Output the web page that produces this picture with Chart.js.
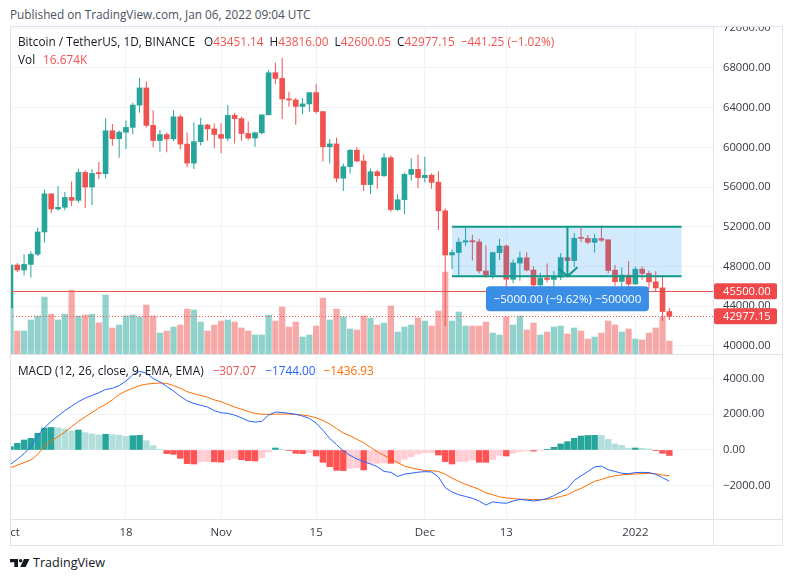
<!DOCTYPE html>
<html>
<head>
<meta charset="utf-8">
<title>Bitcoin / TetherUS, 1D, BINANCE</title>
<script src="https://cdn.jsdelivr.net/npm/chart.js@4.4.1/dist/chart.umd.min.js"></script>
<style>
  html, body { margin: 0; background: #fff; }
  #page { position: relative; width: 793px; height: 582px; overflow: hidden; font-family: 'Open Sans', sans-serif; color: #131722; }
  .clip { position: absolute; overflow: hidden; }
  .clip canvas { position: absolute; left: -20px; top: -20px; }
  .txt { position: absolute; white-space: nowrap; font-size: 11.8px; line-height: 16px; }
  .line { position: absolute; background: #e0e3eb; }
  .red { color: #ef5350; }
  .gap { margin-left: 6px; }
</style>
</head>
<body>
<div id="page">
  <div class="txt" style="left:10px;top:6px;color:#4c525e">Published on TradingView.com, Jan 06, 2022 09:04 UTC</div>

  <div class="clip" style="left:10px;top:26px;width:773px;height:328px"><canvas id="priceChart" width="793" height="368"></canvas></div>
  <div class="clip" style="left:10px;top:354px;width:773px;height:192px"><canvas id="macdChart" width="793" height="212"></canvas></div>

  <div class="line" style="left:10px;top:26px;width:773px;height:1px"></div>
  <div class="line" style="left:10px;top:545px;width:773px;height:1px"></div>
  <div class="line" style="left:10px;top:26px;width:1px;height:520px"></div>
  <div class="line" style="left:782px;top:26px;width:1px;height:520px"></div>
  <div class="line" style="left:713px;top:26px;width:1px;height:520px"></div>
  <div class="line" style="left:10px;top:354px;width:773px;height:1px"></div>
  <div class="line" style="left:10px;top:519px;width:773px;height:1px"></div>

  <div class="txt" style="left:18px;top:33px">Bitcoin / TetherUS, 1D, BINANCE<span style="margin-left:9px">O</span><span class="red">43451.14</span><span class="gap">H</span><span class="red">43816.00</span><span class="gap">L</span><span class="red">42600.05</span><span class="gap">C</span><span class="red">42977.15</span><span class="gap red">&minus;441.25 (&minus;1.02%)</span></div>
  <div class="txt" style="left:18px;top:51px">Vol<span class="red" style="margin-left:8px">16.674K</span></div>
  <div class="txt" style="left:18px;top:362px">MACD (12, 26, close, 9, EMA, EMA)<span style="color:#ef5350;margin-left:9px">&minus;307.07</span><span class="gap" style="color:#2962ff;margin-left:9px">&minus;1744.00</span><span class="gap" style="color:#ff6d00;margin-left:8px">&minus;1436.93</span></div>

  <svg style="position:absolute;left:10px;top:559px" width="20" height="8" viewBox="0 0 20 8">
    <path d="M0 0H8V8H4.3V3.2H0Z" fill="#131722"/>
    <circle cx="10.6" cy="1.7" r="1.7" fill="#131722"/>
    <path d="M14 0H19.5L15.6 8H10.2Z" fill="#131722"/>
  </svg>
  <div class="txt" style="left:33px;top:554px;font-size:12.6px;line-height:18px">TradingView</div>
</div>

<script>
// daily bars from 2021-10-01 to 2022-01-06 (index 0 = Oct 1)
const dates = [];
for (let d = new Date(Date.UTC(2021, 9, 1)); dates.length < 98; d.setUTCDate(d.getUTCDate() + 1)) {
  dates.push(d.toISOString().slice(0, 10));
}

const opens = [
  43820, 48141, 47634, 48200, 49224, 51471, 55315, 53785, 53955, 54949,
  54659, 57471, 56005, 57367, 57347, 61672, 60875, 61528, 62010, 64261,
  65992, 62211, 60688, 61287, 60852, 63079, 60328, 58413, 60575, 62253,
  61859, 61299, 60911, 63220, 62896, 61396, 60940, 61470, 63273, 67526,
  66947, 64883, 64774, 64122, 64380, 65520, 63606, 60059, 60345, 56891,
  58057, 59707, 58622, 56247, 57541, 57138, 58961, 53724, 54721, 57274,
  57777, 56951, 57185, 56485, 53602, 49152, 49397, 50441, 50589, 50471,
  47535, 47140, 49390, 50053, 46702, 48336, 48864, 47632, 46133, 46834,
  46682, 46914, 48887, 48588, 50839, 50822, 50429, 50802, 50680, 47623,
  46490, 47120, 46216, 47722, 47287, 46446, 45833, 43451
];
const highs = [
  48495, 48336, 49229, 49536, 51886, 55750, 55333, 56100, 55490, 56561,
  57839, 57680, 57804, 58532, 62933, 62350, 61718, 62695, 64486, 67000,
  66639, 63732, 61747, 61500, 63711, 63293, 61496, 62499, 62980, 62359,
  62405, 62437, 64270, 63500, 63086, 62595, 61560, 63286, 67789, 68530,
  69000, 65600, 65000, 64971, 65550, 66400, 63617, 60823, 60976, 58367,
  59845, 60029, 59266, 57875, 57750, 59398, 59176, 55281, 57445, 58865,
  59250, 59050, 57400, 57600, 53859, 49700, 50891, 51936, 51200, 50797,
  50125, 49485, 50797, 50205, 48700, 49500, 49436, 48004, 47360, 48300,
  47537, 49328, 49576, 51375, 51869, 51171, 51280, 52088, 50704, 48150,
  47879, 48549, 47954, 47990, 47570, 47505, 47070, 43816
];
const lows = [
  43283, 47430, 47088, 46891, 49022, 50382, 53357, 53617, 53661, 54080,
  54415, 53879, 54200, 56818, 56850, 60150, 58963, 59844, 61322, 63481,
  62000, 60000, 59562, 59510, 60650, 59817, 58000, 57820, 60174, 60673,
  59945, 59405, 60624, 60382, 60677, 60721, 60050, 61322, 63273, 66383,
  62822, 64100, 62278, 63360, 63577, 63400, 58574, 58373, 56474, 55600,
  57353, 58486, 55610, 55318, 55837, 57000, 53500, 53610, 53256, 56666,
  55875, 56459, 55837, 51680, 42000, 47728, 47100, 50039, 48600, 47320,
  46852, 46751, 48638, 45672, 46290, 46547, 47511, 45456, 45500, 46406,
  45558, 46630, 48421, 47920, 50450, 50236, 49412, 50449, 47314, 46060,
  45900, 45678, 46208, 46654, 45697, 45502, 42500, 42600
];
const closes = [
  48141, 47634, 48200, 49224, 51471, 55315, 53785, 53951, 54949, 54659,
  57471, 56005, 57367, 57347, 61672, 60875, 61528, 62010, 64261, 65992,
  62211, 60688, 61287, 60852, 63079, 60328, 58413, 60575, 62253, 61859,
  61299, 60911, 63219, 62896, 61395, 60937, 61470, 63273, 67525, 66947,
  64882, 64774, 64122, 64380, 65519, 63606, 60058, 60344, 56891, 58052,
  59707, 58622, 56247, 57541, 57138, 58960, 53726, 54721, 57274, 57776,
  56950, 57184, 56480, 53601, 49152, 49396, 50441, 50589, 50471, 47545,
  47140, 49389, 50053, 46702, 48343, 48864, 47632, 46131, 46834, 46681,
  46914, 48889, 48588, 50838, 50821, 50429, 50809, 50640, 47588, 46464,
  47120, 46216, 47722, 47286, 46446, 45832, 43451, 42977
];
// volume in thousands of BTC
const volumes = [
  59, 29.5, 29.5, 43.6, 48.8, 73, 51, 43.6, 51, 82,
  48.8, 50, 51, 40, 75.7, 33.4, 37.2, 48.8, 50, 47.5,
  62.9, 48.8, 27, 29.5, 34.6, 37.2, 57.7, 56.5, 41, 29.5,
  37.2, 42.3, 43.6, 41, 33.4, 29.5, 24.4, 24.4, 50, 42.3,
  60.3, 34.6, 41, 21.8, 24.4, 35.9, 71.8, 43.6, 57.7, 47.5,
  32.1, 30.8, 48.8, 46.2, 37.2, 39.8, 61.6, 28.2, 34.6, 37.2,
  46.2, 42.3, 35.9, 55.2, 105.2, 42.3, 53.9, 35.9, 35.9, 35.9,
  41, 26.9, 24.4, 47.5, 37.2, 48.8, 30.8, 39.8, 24.4, 28.2,
  34.6, 35.9, 25.7, 33.4, 29.5, 19.2, 21.8, 26.9, 42.3, 37.2,
  28.2, 32.1, 19.2, 18, 26.9, 33.4, 47.5, 16.674
];

const macdLine = [
  -800, -520, -200, 200, 800, 1250, 1600, 1900, 2200, 2450,
  2700, 2900, 3050, 3200, 3380, 3450, 3600, 3850, 4200, 4400,
  4300, 4000, 3800, 3550, 3300, 3000, 2750, 2600, 2500, 2400,
  2200, 2080, 2050, 1950, 1800, 1620, 1560, 1600, 1950, 2120,
  2100, 2050, 2000, 1900, 1770, 1500, 1100, 650, 300, -50,
  -300, -500, -650, -780, -930, -1200, -1250, -1480, -1350, -1300,
  -1240, -1210, -1230, -1500, -2100, -2350, -2500, -2600, -2700, -2850,
  -3075, -2900, -2950, -2980, -2850, -2760, -2800, -2850, -2800, -2720,
  -2550, -2350, -2150, -1700, -1450, -1200, -950, -900, -1100, -1200,
  -1300, -1330, -1260, -1250, -1260, -1360, -1550, -1744
];
const signalLine = [
  -990, -850, -700, -560, -250, 200, 500, 750, 1000, 1300,
  1600, 1850, 2100, 2350, 2550, 2800, 3100, 3300, 3450, 3600,
  3680, 3720, 3745, 3720, 3600, 3450, 3260, 3150, 3050, 2950,
  2800, 2700, 2550, 2400, 2280, 2150, 2050, 2000, 1990, 2000,
  2010, 2010, 1980, 1950, 1900, 1800, 1650, 1450, 1200, 950,
  800, 600, 400, 150, -100, -300, -500, -700, -900, -1000,
  -1080, -1150, -1160, -1200, -1350, -1580, -1750, -1920, -2050, -2200,
  -2400, -2500, -2620, -2680, -2720, -2750, -2760, -2770, -2770, -2760,
  -2700, -2600, -2500, -2300, -2150, -1950, -1750, -1650, -1520, -1440,
  -1390, -1360, -1340, -1320, -1310, -1330, -1400, -1437
];
const histogram = [
  186, 373, 559, 652, 932, 1230, 1260, 1240, 1174, 1062,
  1118, 969, 895, 839, 880, 860, 830, 764, 800, 820,
  522, 242, 37, -200, -242, -466, -760, -783, -652, -640,
  -660, -680, -559, -470, -540, -600, -615, -429, -112, 112,
  37, -20, -186, -205, -150, -335, -689, -932, -1137, -1150,
  -1025, -990, -1118, -760, -745, -720, -745, -740, -520, -369,
  -224, -150, -145, -280, -648, -783, -648, -640, -559, -688,
  -690, -520, -300, -335, -184, -89, -54, -60, -30, 37,
  149, 336, 466, 652, 783, 810, 820, 815, 596, 336,
  261, 93, 112, 100, 56, -19, -184, -307
];

const priceTicks = [40000, 44000, 48000, 52000, 56000, 60000, 64000, 68000, 72000];
const macdTicks = [-2000, 0, 2000, 4000];
const timeTicks = [0, 17, 31, 45, 61, 73, 92];
const timeLabels = ['Oct', '18', 'Nov', '15', 'Dec', '13', '2022'];

// drawings on the price pane
const levelPrice = 45500;
const lastPrice = 42977.15;
const rangeHigh = 52000, rangeLow = 47000;
const rangeFrom = 65, rangeTo = 98.8, rangeArrowAt = 82;
const rangeText = '\u22125000.00 (\u22129.62%) \u2212500000';

// visible window
const xMin = -0.074, xMax = 103.43;
const priceMin = 39169, priceMax = 72232;
const volMax = 421;
const macdMin = -3857, macdMax = 5366;

const UP = '#26a69a', DOWN = '#ef5350';
const GRID = '#f0f3fa', TEXT = '#363a45';
const isUp = i => closes[i] >= opens[i];

Chart.defaults.font.family = "'Open Sans', sans-serif";
Chart.defaults.font.size = 11.2;
Chart.defaults.color = TEXT;

const minus = v => (v < 0 ? '\u2212' : '') + Math.abs(v).toFixed(2);

function priceTag(ctx, area, yPix, text) {
  ctx.fillStyle = '#f0494c';
  ctx.beginPath();
  ctx.roundRect(area.right + 1, yPix - 8, 63, 16, 2);
  ctx.fill();
  ctx.fillStyle = '#fff';
  ctx.textAlign = 'left';
  ctx.textBaseline = 'middle';
  ctx.font = "11.2px 'Open Sans', sans-serif";
  ctx.fillText(text, area.right + 10, yPix + 0.5);
}

const drawingsPlugin = {
  id: 'drawings',
  afterDatasetsDraw(chart) {
    const { ctx, chartArea: a, scales: { x, y } } = chart;
    ctx.save();
    ctx.beginPath();
    ctx.rect(a.left, a.top, a.right - a.left, a.bottom - a.top);
    ctx.clip();

    // horizontal level
    const yLevel = Math.round(y.getPixelForValue(levelPrice)) + 0.5;
    ctx.strokeStyle = '#ef5350';
    ctx.lineWidth = 1;
    ctx.beginPath();
    ctx.moveTo(a.left, yLevel);
    ctx.lineTo(a.right, yLevel);
    ctx.stroke();

    // last price
    const yLast = Math.round(y.getPixelForValue(lastPrice)) + 0.5;
    ctx.setLineDash([1, 2]);
    ctx.beginPath();
    ctx.moveTo(a.left, yLast);
    ctx.lineTo(a.right, yLast);
    ctx.stroke();
    ctx.setLineDash([]);

    // price range box
    const x0 = x.getPixelForValue(rangeFrom), x1 = x.getPixelForValue(rangeTo);
    const yT = y.getPixelForValue(rangeHigh), yB = y.getPixelForValue(rangeLow);
    ctx.fillStyle = 'rgba(33,150,243,0.2)';
    ctx.fillRect(x0, yT, x1 - x0, yB - yT);
    ctx.strokeStyle = '#12998a';
    ctx.lineWidth = 2;
    ctx.beginPath();
    ctx.moveTo(x0, yT); ctx.lineTo(x1, yT);
    ctx.moveTo(x0, yB); ctx.lineTo(x1, yB);
    const xa = x.getPixelForValue(rangeArrowAt);
    ctx.moveTo(xa, yT); ctx.lineTo(xa, yB);
    ctx.moveTo(xa - 9, yB - 8); ctx.lineTo(xa, yB); ctx.lineTo(xa + 10, yB - 9);
    ctx.stroke();

    // range label
    const w = 163, h = 25, top = yB + 10;
    ctx.fillStyle = '#3a8ee6';
    ctx.beginPath();
    ctx.roundRect(xa - w / 2, top, w, h, 4);
    ctx.fill();
    ctx.fillStyle = '#fff';
    ctx.font = "11.6px 'Open Sans', sans-serif";
    ctx.textAlign = 'center';
    ctx.textBaseline = 'middle';
    ctx.fillText(rangeText, xa, top + h / 2 + 0.5);
    ctx.restore();
  },
  afterDraw(chart) {
    const { ctx, chartArea: a, scales: { y } } = chart;
    ctx.save();
    priceTag(ctx, a, y.getPixelForValue(levelPrice), levelPrice.toFixed(2));
    priceTag(ctx, a, y.getPixelForValue(lastPrice), lastPrice.toFixed(2));
    ctx.restore();
  }
};

new Chart(document.getElementById('priceChart'), {
  type: 'bar',
  data: {
    datasets: [
      {
        label: 'Volume',
        data: volumes.map((v, i) => ({ x: i, y: v })),
        yAxisID: 'yv',
        backgroundColor: c => isUp(c.dataIndex) ? 'rgba(38,166,154,0.5)' : 'rgba(239,83,80,0.5)',
        barThickness: 5.6,
        grouped: false,
        order: 3
      },
      {
        label: 'Wicks',
        data: lows.map((l, i) => ({ x: i, y: [l, highs[i]] })),
        backgroundColor: c => isUp(c.dataIndex) ? UP : DOWN,
        barThickness: 1,
        inflateAmount: 0,
        grouped: false,
        order: 2
      },
      {
        label: 'BTCUSDT',
        data: opens.map((o, i) => ({ x: i, y: [o, closes[i]] })),
        backgroundColor: c => isUp(c.dataIndex) ? UP : DOWN,
        barThickness: 5,
        minBarLength: 1,
        grouped: false,
        order: 1
      }
    ]
  },
  options: {
    responsive: false,
    animation: false,
    layout: { padding: { left: 20, top: 20, right: 0, bottom: 20 } },
    plugins: { legend: { display: false }, tooltip: { enabled: false } },
    scales: {
      x: {
        type: 'linear',
        min: xMin,
        max: xMax,
        offset: false,
        afterBuildTicks: s => { s.ticks = timeTicks.map(v => ({ value: v })); },
        afterFit: s => { s.height = 0; },
        ticks: { display: false },
        grid: { color: GRID, drawTicks: false, offset: false },
        border: { display: false }
      },
      y: {
        type: 'linear',
        position: 'right',
        min: priceMin,
        max: priceMax,
        afterBuildTicks: s => { s.ticks = priceTicks.map(v => ({ value: v })); },
        afterFit: s => { s.width = 70; },
        ticks: { padding: 10, callback: v => v.toFixed(2) },
        grid: { color: GRID, drawTicks: false },
        border: { display: false }
      },
      yv: {
        type: 'linear',
        display: false,
        min: 0,
        max: volMax
      }
    }
  },
  plugins: [drawingsPlugin]
});

const histColor = i => {
  const v = histogram[i], prev = i > 0 ? histogram[i - 1] : -Infinity;
  if (v >= 0) return v > prev ? '#26a69a' : '#b2dfdb';
  return v > prev ? '#ffcdd2' : '#ff5252';
};

new Chart(document.getElementById('macdChart'), {
  type: 'bar',
  data: {
    datasets: [
      {
        type: 'line',
        label: 'MACD',
        data: macdLine.map((v, i) => ({ x: i, y: v })),
        borderColor: '#2962ff',
        borderWidth: 1,
        pointRadius: 0,
        order: 1
      },
      {
        type: 'line',
        label: 'Signal',
        data: signalLine.map((v, i) => ({ x: i, y: v })),
        borderColor: '#ff6d00',
        borderWidth: 1,
        pointRadius: 0,
        order: 2
      },
      {
        label: 'Histogram',
        data: histogram.map((v, i) => ({ x: i, y: v })),
        backgroundColor: c => histColor(c.dataIndex),
        barThickness: 5.8,
        grouped: false,
        order: 3
      }
    ]
  },
  options: {
    responsive: false,
    animation: false,
    layout: { padding: { left: 20, top: 20, right: 0, bottom: 0 } },
    plugins: { legend: { display: false }, tooltip: { enabled: false } },
    scales: {
      x: {
        type: 'linear',
        min: xMin,
        max: xMax,
        offset: false,
        afterBuildTicks: s => { s.ticks = timeTicks.map(v => ({ value: v })); },
        afterFit: s => { s.height = 27; },
        ticks: {
          padding: 7,
          maxRotation: 0,
          autoSkip: false,
          font: { size: 11.5 },
          callback: (v, i) => timeLabels[i]
        },
        grid: { color: GRID, drawTicks: false, offset: false },
        border: { display: false }
      },
      y: {
        type: 'linear',
        position: 'right',
        min: macdMin,
        max: macdMax,
        afterBuildTicks: s => { s.ticks = macdTicks.map(v => ({ value: v })); },
        afterFit: s => { s.width = 70; },
        ticks: { padding: 10, callback: v => minus(v) },
        grid: { color: GRID, drawTicks: false },
        border: { display: false }
      }
    }
  }
});
</script>
</body>
</html>
